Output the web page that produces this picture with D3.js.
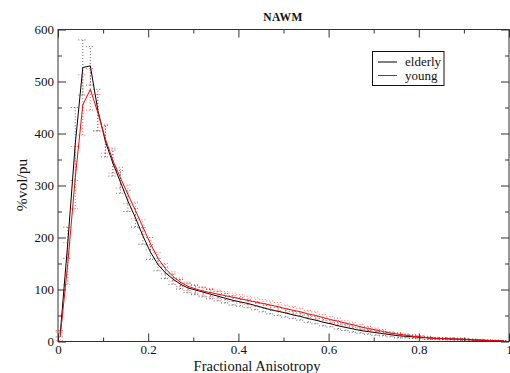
<!DOCTYPE html>
<html><head><meta charset="utf-8">
<script src="https://cdn.jsdelivr.net/npm/d3@7"></script>
<style>body{margin:0;background:#fff}svg{display:block}</style>
</head><body>
<svg id="c" width="510" height="373"></svg>
<script>
// x positions (Fractional Anisotropy bin centres)
const faBins = [0.005,0.0217,0.0383,0.055,0.0717,0.0883,0.105,0.1217,0.1383,0.155,
0.1717,0.1883,0.205,0.2217,0.2383,0.255,0.2717,0.2883,0.305,0.3217,
0.3383,0.355,0.3717,0.3883,0.405,0.4217,0.4383,0.455,0.4717,0.4883,
0.505,0.5217,0.5383,0.555,0.5717,0.5883,0.605,0.6217,0.6383,0.655,
0.6717,0.6883,0.705,0.7217,0.7383,0.755,0.7717,0.7883,0.805,0.8217,
0.8383,0.855,0.8717,0.8883,0.905,0.9217,0.9383,0.955,0.9717,0.9883];
const elderly = [15,190,380,527,530,445,385,343,307,270,
238,203,172,148,132,120,110,103,99,95,
91,87,83,79,76,73,69,65,61,58,
55,51,48,44,41,37,34,30,27,24,
21,19,17,15,13,11,10,9,8,7,
6,5.5,5,4.5,4,3,2.5,2,1.5,1];
const elderlyErr = [6,30,70,53,37,40,30,25,22,20,
18,16,14,12,11,10,9,9,9,9,
9,9,9,9,8,8,8,8,8,8,
8,7,7,7,7,7,6,6,6,6,
5,5,5,4,4,4,3,3,3,3,
2,2,2,2,2,1.5,1.5,1,1,1];
const young = [10,150,315,455,485,440,390,348,315,283,
252,220,188,160,140,125,114,106,101,97,
94,91,88,85,82,79,76,73,70,67,
63,60,57,53,50,46,42,39,35,32,
28,25,22,19,16,14,12,10,8.5,7,
6,5.5,5,4.5,4,3,2.5,2,1.5,1];
const youngErr = [8,40,60,58,40,35,28,24,20,18,
16,14,12,11,10,9,8,8,8,8,
8,8,8,8,8,8,8,8,8,8,
7,7,7,7,7,6,6,6,5,5,
5,4,4,4,3,3,3,3,2,2,
2,2,2,1.5,1.5,1.5,1,1,1,1];
const xMajor = [0,0.2,0.4,0.6,0.8,1];
const xMinor = [0.1,0.3,0.5,0.7,0.9];
const yMajor = [0,100,200,300,400,500,600];
const yMinor = [50,150,250,350,450,550];
const seriesNames = ["elderly","young"];
const seriesColors = ["#000000","#ff0000"];

const svg = d3.select("#c");
const L=58,R=509,T=29.5,B=341.5;
const x = d3.scaleLinear().domain([0,1]).range([L,R]);
const y = d3.scaleLinear().domain([0,600]).range([B,T]);
const serif = "'Liberation Serif','Times New Roman',serif";
const axCol = "#333";

function styleAxis(g){
  g.select(".domain").remove();
  g.selectAll("line").attr("stroke",axCol);
  g.selectAll("text").attr("font-family",serif).attr("font-size",13).attr("fill","#111");
}
// bottom
svg.append("g").attr("transform",`translate(0,${B})`)
  .call(d3.axisBottom(x).tickValues(xMajor).tickSizeInner(-8).tickPadding(3)
    .tickFormat(d=>d===0?"0":d===1?"1":d3.format(".1f")(d))).call(styleAxis);
svg.append("g").attr("transform",`translate(0,${B})`)
  .call(d3.axisBottom(x).tickValues(xMinor).tickSizeInner(-4).tickFormat("")).call(styleAxis);
// top
svg.append("g").attr("transform",`translate(0,${T})`)
  .call(d3.axisTop(x).tickValues(xMajor).tickSizeInner(-8).tickFormat("")).call(styleAxis);
svg.append("g").attr("transform",`translate(0,${T})`)
  .call(d3.axisTop(x).tickValues(xMinor).tickSizeInner(-4).tickFormat("")).call(styleAxis);
// left
svg.append("g").attr("transform",`translate(${L},0)`)
  .call(d3.axisLeft(y).tickValues(yMajor).tickSizeInner(-8).tickPadding(4)).call(styleAxis);
svg.append("g").attr("transform",`translate(${L},0)`)
  .call(d3.axisLeft(y).tickValues(yMinor).tickSizeInner(-4).tickFormat("")).call(styleAxis);
// right
svg.append("g").attr("transform",`translate(${R},0)`)
  .call(d3.axisRight(y).tickValues(yMajor).tickSizeInner(-8).tickFormat("")).call(styleAxis);
svg.append("g").attr("transform",`translate(${R},0)`)
  .call(d3.axisRight(y).tickValues(yMinor).tickSizeInner(-4).tickFormat("")).call(styleAxis);

// frame
svg.append("rect").attr("x",L).attr("y",T).attr("width",R-L).attr("height",B-T)
  .attr("fill","none").attr("stroke",axCol).attr("stroke-width",1);

const plot = svg.append("g");
function drawSeries(vals, errs, color){
  const pts = faBins.map((fx,i)=>({fx, v:vals[i], e:errs[i]}));
  const eg = plot.append("g").attr("stroke",color).attr("stroke-width",1)
    .attr("stroke-dasharray","1,2").attr("opacity",0.6).attr("fill","none");
  eg.selectAll("line.v").data(pts).join("line").attr("class","v")
    .attr("x1",d=>x(d.fx)).attr("x2",d=>x(d.fx))
    .attr("y1",d=>y(Math.max(0,d.v-d.e))).attr("y2",d=>y(d.v+d.e));
  eg.selectAll("line.t").data(pts).join("line").attr("class","t")
    .attr("x1",d=>x(d.fx)-4.5).attr("x2",d=>x(d.fx)+4.5)
    .attr("y1",d=>y(d.v+d.e)).attr("y2",d=>y(d.v+d.e));
  eg.selectAll("line.b").data(pts).join("line").attr("class","b")
    .attr("x1",d=>x(d.fx)-4.5).attr("x2",d=>x(d.fx)+4.5)
    .attr("y1",d=>y(Math.max(0,d.v-d.e))).attr("y2",d=>y(Math.max(0,d.v-d.e)));
  plot.append("path").datum(pts)
    .attr("d",d3.line().x(d=>x(d.fx)).y(d=>y(d.v)))
    .attr("fill","none").attr("stroke",color).attr("stroke-width",1);
}
drawSeries(elderly, elderlyErr, seriesColors[0]);
drawSeries(young, youngErr, seriesColors[1]);

// title
svg.append("text").attr("x",283).attr("y",20.5).attr("text-anchor","middle")
  .attr("font-family",serif).attr("font-weight","bold").attr("font-size",11.5)
  .attr("letter-spacing",0.4).attr("fill","#111").text("NAWM");
// axis titles
svg.append("text").attr("x",257).attr("y",370.5).attr("text-anchor","middle")
  .attr("font-family",serif).attr("font-size",14.5).attr("fill","#111").text("Fractional Anisotropy");
svg.append("text").attr("transform","translate(27,185) rotate(-90)").attr("text-anchor","middle")
  .attr("font-family",serif).attr("font-size",15.5).attr("fill","#111").text("%vol/pu");

// legend
const lg = svg.append("g");
lg.append("rect").attr("x",372.5).attr("y",51.5).attr("width",71.5).attr("height",34)
  .attr("fill","#fff").attr("stroke","#111").attr("stroke-width",1);
seriesNames.forEach((n,i)=>{
  const yy = 62 + i*13.5;
  lg.append("line").attr("x1",378).attr("x2",397).attr("y1",yy).attr("y2",yy)
    .attr("stroke",seriesColors[i]).attr("stroke-width",1);
  lg.append("text").attr("x",405).attr("y",yy+4).attr("font-family",serif)
    .attr("font-size",13).attr("fill","#111").text(n);
});
</script>
</body></html>
